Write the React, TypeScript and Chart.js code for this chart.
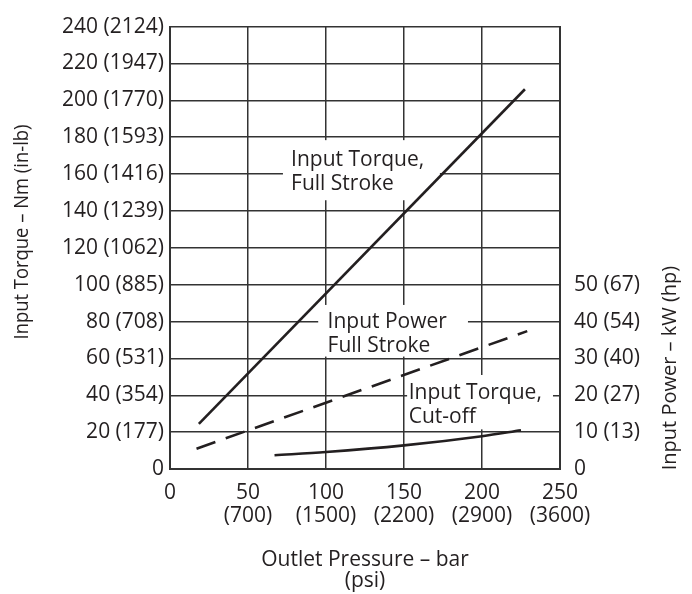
import React, { useEffect, useRef } from 'react';
import { Chart, registerables } from 'chart.js';

Chart.register(...registerables);

// ---- Data ----
const xTickValues = [0, 50, 100, 150, 200, 250];
const xTickLabels = [['0'], ['50', '(700)'], ['100', '(1500)'], ['150', '(2200)'], ['200', '(2900)'], ['250', '(3600)']];

const torqueTickValues = [0, 20, 40, 60, 80, 100, 120, 140, 160, 180, 200, 220, 240];
const torqueTickLabels = ['0', '20 (177)', '40 (354)', '60 (531)', '80 (708)', '100 (885)', '120 (1062)', '140 (1239)', '160 (1416)', '180 (1593)', '200 (1770)', '220 (1947)', '240 (2124)'];

const powerTickValues = [0, 10, 20, 30, 40, 50];
const powerTickLabels = ['0', '10 (13)', '20 (27)', '30 (40)', '40 (54)', '50 (67)'];

// Input Torque, Full Stroke (Nm)
const fullTorquePressure = [18.5, 227.5];
const fullTorqueValues = [24.5, 206];
// Input Power, Full Stroke (kW)
const fullPowerPressure = [17, 229];
const fullPowerValues = [5.5, 37.4];
// Input Torque, Cut-off (Nm)
const cutoffPressure = [67, 100, 150, 200, 225];
const cutoffValues = [7.5, 9.2, 12.8, 17.8, 21];

// Curve labels (text + anchor in data units, white backing box in data units)
const curveLabels = [
  { lines: ['Input Torque,', 'Full Stroke'], x: 77.6, y: 164.2, box: [72.4, 173, 145.8, 178.4] },
  { lines: ['Input Power', 'Full Stroke'], x: 101, y: 76.3, box: [95, 191, 61, 89] },
  { lines: ['Input Torque,', 'Cut-off'], x: 153, y: 37.9, box: [152, 245.5, 21.5, 51] },
];

const leftTitle = 'Input Torque – Nm (in-lb)';
const rightTitle = 'Input Power – kW (hp)';
const bottomTitle = ['Outlet Pressure – bar', '(psi)'];

const FONT = "'Open Sans', 'Noto Sans', sans-serif";
const INK = '#231f20';
const GRID = '#333333';

const pts = (xs: number[], ys: number[]) => xs.map((x, i) => ({ x, y: ys[i] }));

const labelPlugin = {
  id: 'curveLabels',
  beforeDatasetsDraw(chart: any) {
    const { ctx, scales } = chart;
    const x = scales.x;
    const y = scales.y;
    ctx.save();
    ctx.fillStyle = '#ffffff';
    for (const a of curveLabels) {
      const x0 = x.getPixelForValue(a.box[0]);
      const x1 = x.getPixelForValue(a.box[1]);
      const y0 = y.getPixelForValue(a.box[3]);
      const y1 = y.getPixelForValue(a.box[2]);
      ctx.fillRect(x0, y0, x1 - x0, y1 - y0);
    }
    ctx.restore();
  },
  afterDatasetsDraw(chart: any) {
    const { ctx, scales } = chart;
    const x = scales.x;
    const y = scales.y;
    ctx.save();
    ctx.fillStyle = INK;
    ctx.font = `21px ${FONT}`;
    ctx.textAlign = 'left';
    ctx.textBaseline = 'alphabetic';
    for (const a of curveLabels) {
      const px = x.getPixelForValue(a.x);
      const py = y.getPixelForValue(a.y);
      a.lines.forEach((t, i) => ctx.fillText(t, px, py + i * 24));
    }
    ctx.restore();
  },
  afterDraw(chart: any) {
    const { ctx } = chart;
    ctx.save();
    ctx.fillStyle = INK;
    ctx.font = `20px ${FONT}`;
    ctx.textAlign = 'center';
    ctx.textBaseline = 'middle';
    // left title
    ctx.save();
    ctx.translate(22, 232);
    ctx.rotate(-Math.PI / 2);
    ctx.scale(0.92, 1);
    ctx.fillText(leftTitle, 0, 0);
    ctx.restore();
    // right title
    ctx.save();
    ctx.translate(670, 368);
    ctx.rotate(-Math.PI / 2);
    ctx.fillText(rightTitle, 0, 0);
    ctx.restore();
    ctx.restore();
  },
};

export default function App() {
  const ref = useRef<HTMLCanvasElement | null>(null);

  useEffect(() => {
    document.body.style.margin = '0';
    const canvas = ref.current;
    if (!canvas) return;
    const lineStyle = { borderColor: INK, borderWidth: 2.6, pointRadius: 0, fill: false };
    const chart = new Chart(canvas, {
      type: 'line',
      data: {
        datasets: [
          { ...lineStyle, label: 'Input Torque, Full Stroke', data: pts(fullTorquePressure, fullTorqueValues), yAxisID: 'y' },
          { ...lineStyle, label: 'Input Power, Full Stroke', data: pts(fullPowerPressure, fullPowerValues), yAxisID: 'y1', borderDash: [20, 11] },
          { ...lineStyle, label: 'Input Torque, Cut-off', data: pts(cutoffPressure, cutoffValues), yAxisID: 'y', cubicInterpolationMode: 'monotone' },
        ],
      } as any,
      options: {
        responsive: false,
        animation: false,
        devicePixelRatio: 1,
        layout: { padding: { top: 13, left: 0, right: 0, bottom: 0 } },
        plugins: { legend: { display: false }, tooltip: { enabled: false } },
        scales: {
          x: {
            type: 'linear',
            min: 0,
            max: 250,
            afterBuildTicks: (s: any) => { s.ticks = xTickValues.map((v) => ({ value: v })); },
            afterFit: (s: any) => { s.height = 125; },
            grid: { color: GRID, lineWidth: 1.5, drawTicks: false },
            border: { color: GRID, width: 2 },
            ticks: {
              color: INK,
              padding: 13,
              maxRotation: 0,
              font: { family: FONT, size: 21, lineHeight: 1.07 },
              callback: (v: any) => { const i = xTickValues.indexOf(Number(v)); return i >= 0 ? xTickLabels[i] : ''; },
            },
            title: {
              display: true,
              text: bottomTitle,
              color: INK,
              font: { family: FONT, size: 21, lineHeight: 1.0 },
              padding: { top: 0, bottom: 2 },
            },
          },
          y: {
            type: 'linear',
            position: 'left',
            min: 0,
            max: 240,
            afterBuildTicks: (s: any) => { s.ticks = torqueTickValues.map((v) => ({ value: v })); },
            afterFit: (s: any) => { s.width = 170; },
            grid: { color: GRID, lineWidth: 1.5, drawTicks: false },
            border: { color: GRID, width: 2 },
            ticks: {
              color: INK,
              padding: 6,
              font: { family: FONT, size: 21 },
              callback: (v: any) => { const i = torqueTickValues.indexOf(Number(v)); return i >= 0 ? torqueTickLabels[i] : ''; },
            },
          },
          y1: {
            type: 'linear',
            position: 'right',
            min: 0,
            max: 120,
            afterBuildTicks: (s: any) => { s.ticks = powerTickValues.map((v) => ({ value: v })); },
            afterFit: (s: any) => { s.width = 132; },
            grid: { display: false, drawTicks: false },
            border: { color: GRID, width: 2 },
            ticks: {
              color: INK,
              padding: 14,
              font: { family: FONT, size: 21 },
              callback: (v: any) => { const i = powerTickValues.indexOf(Number(v)); return i >= 0 ? powerTickLabels[i] : ''; },
            },
          },
        },
      } as any,
      plugins: [labelPlugin],
    });
    return () => chart.destroy();
  }, []);

  return (
    <div style={{ width: 692, height: 594 }}>
      <canvas ref={ref} width={692} height={594} style={{ display: 'block' }} />
    </div>
  );
}
